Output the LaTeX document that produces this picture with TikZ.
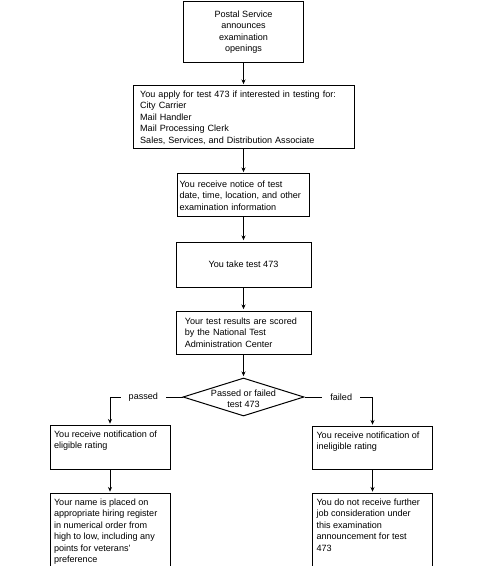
\documentclass[tikz,border=0pt]{standalone}
\usepackage{fontspec}
\setmainfont{Liberation Sans}
\usetikzlibrary{shapes.geometric,arrows.meta}

\newcommand{\toptext}[2]{\parbox[c][#1][t]{84pt}{\raggedright #2}}

\tikzset{
	box/.style={draw, line width=0.75pt, inner sep=0pt},
	topbox/.style={draw, line width=0.75pt, anchor=north, minimum width=90pt, inner xsep=3pt, inner ysep=4pt},
	link/.style={-{Stealth[length=3.5pt,width=3pt]}, line width=0.75pt, shorten >=1pt},
	lbl/.style={fill=white, inner xsep=6pt, inner ysep=1pt},
}

\begin{document}
\begin{tikzpicture}[x=0.75pt,y=-0.75pt,font=\fontsize{6.8}{8.6}\selectfont]
	\useasboundingbox (0,0) rectangle (492,566);
	\clip (0,0) rectangle (492,566);

	% main column
	\node[box, minimum width=90pt, minimum height=45.75pt, align=center] (announce) at (243.5,32) {Postal Service\\announces\\examination\\openings};
	\node[box, minimum width=165.75pt, minimum height=47.25pt, text width=155pt, align=left] (apply) at (243.5,117.5) {You apply for test 473 if interested in testing for:\\City Carrier\\Mail Handler\\Mail Processing Clerk\\Sales, Services, and Distribution Associate};
	\node[box, minimum width=99pt, minimum height=32.25pt, text width=96pt, align=left] (notice) at (243.5,195.5) {You receive notice of test\\date, time, location, and other\\examination information};
	\node[box, minimum width=101.25pt, minimum height=33.75pt, align=center] (take) at (243.5,264.5) {You take test 473};
	\node[box, minimum width=101.25pt, minimum height=32.25pt, text width=88pt, align=left] (scored) at (243.5,332.5) {Your test results are scored\\by the National Test\\Administration Center};
	\node[draw, diamond, line width=0.75pt, inner sep=0pt, minimum width=90.75pt, minimum height=28.5pt,
		label={[align=center, yshift=-1.5pt]center:Passed or failed\\test 473}] (decide) at (243.5,397) {};

	% two branches
	\node[topbox] (eligible) at (110,425) {\toptext{25pt}{You receive notification of\\eligible rating}};
	\node[topbox] (ineligible) at (372.5,426) {\toptext{24.25pt}{You receive notification of\\ineligible rating}};
	\node[topbox] (placed) at (110,493) {\toptext{80pt}{Your name is placed on\\appropriate hiring register\\in numerical order from\\high to low, including any\\points for veterans’\\preference}};
	\node[topbox] (nofurther) at (372.5,493) {\toptext{80pt}{You do not receive further\\job consideration under\\this examination\\announcement for test\\473}};

	\draw[link] (announce) -- (apply);
	\draw[link] (apply) -- (notice);
	\draw[link] (notice) -- (take);
	\draw[link] (take) -- (scored);
	\draw[link] (scored) -- (decide);
	\draw[link] (decide.west) -| node[lbl, pos=0.27] {passed} (eligible.north);
	\draw[link] (decide.east) -| node[lbl, pos=0.27] {failed} (ineligible.north);
	\draw[link] (eligible) -- (placed);
	\draw[link] (ineligible) -- (nofurther);
\end{tikzpicture}
\end{document}
